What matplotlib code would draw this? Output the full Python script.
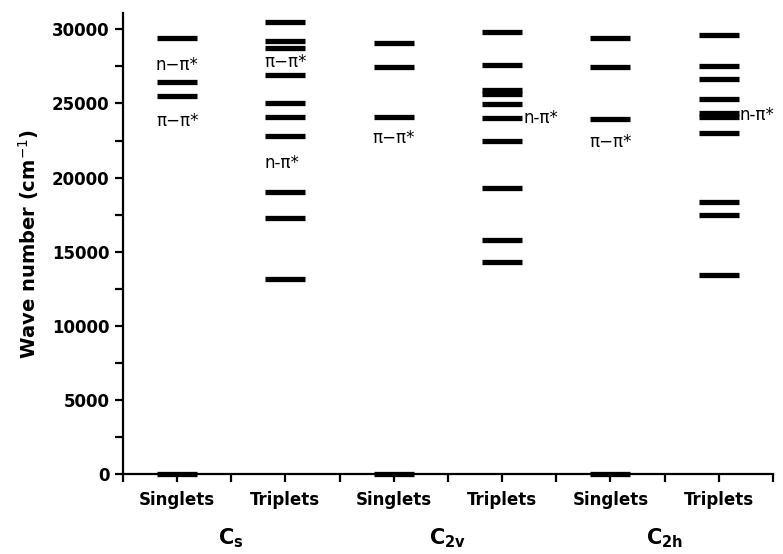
import numpy as np
import matplotlib
matplotlib.use('Agg')
import matplotlib.pyplot as plt

# energy levels (cm-1)
columns = ['Singlets', 'Triplets', 'Singlets', 'Triplets', 'Singlets', 'Triplets']
groups = ['C_{s}', 'C_{2v}', 'C_{2h}']

cs_singlets = [0, 25480, 26470, 29420]
cs_triplets = [13140, 17300, 19040, 22820, 24100, 25030, 26940, 28750, 29220, 30480]
c2v_singlets = [0, 24060, 27440, 29090]
c2v_triplets = [14310, 15810, 19330, 22480, 24020, 24960, 25610, 25910, 27570, 29830]
c2h_singlets = [0, 23920, 27480, 29440]
c2h_triplets = [13400, 17480, 18360, 23000, 24100, 24340, 25280, 26670, 27550, 29600]

levels = [cs_singlets, cs_triplets, c2v_singlets, c2v_triplets, c2h_singlets, c2h_triplets]

# (column, wave number, text, placement)
labels = [
    (1, 27600, 'n\u2212\u03c0*', 'under'),
    (1, 23790, '\u03c0\u2212\u03c0*', 'under'),
    (2, 27800, '\u03c0\u2212\u03c0*', 'under'),
    (2, 21000, 'n-\u03c0*', 'under'),
    (3, 22680, '\u03c0\u2212\u03c0*', 'under'),
    (4, 24020, 'n-\u03c0*', 'right'),
    (5, 22430, '\u03c0\u2212\u03c0*', 'under'),
    (6, 24200, 'n-\u03c0*', 'right'),
]

half = 0.185

fig = plt.figure(figsize=(7.83, 5.54), dpi=100)
ax = fig.add_axes([0.157, 0.1444, 0.83, 0.832])

for i, lv in enumerate(levels):
    x = i + 1
    ax.hlines(lv, x - half, x + half, colors='black', linewidth=3.8,
              clip_on=False, zorder=3)

for col, y, txt, where in labels:
    if where == 'under':
        ax.text(col - half - 0.01, y, txt, ha='left', va='center', fontsize=12)
    else:
        ax.text(col + half + 0.01, y, txt, ha='left', va='center', fontsize=12)

ax.set_xlim(0.5, 6.5)
ax.set_ylim(0, 31100)

ax.spines['top'].set_visible(False)
ax.spines['right'].set_visible(False)
ax.spines['left'].set_linewidth(1.6)
ax.spines['bottom'].set_linewidth(1.6)

ax.set_xticks(np.arange(1, 7))
ax.set_xticklabels(columns, fontsize=12, fontweight='bold')
ax.set_xticks(np.arange(0.5, 7.0, 1.0), minor=True)
ax.set_yticks(np.arange(0, 30001, 5000))
ax.set_yticks(np.arange(0, 31001, 2500), minor=True)
for lab in ax.get_yticklabels():
    lab.set_fontweight('bold')
    lab.set_fontsize(12)
ax.tick_params(which='both', direction='out', width=1.6)
ax.tick_params(which='major', length=6)
ax.tick_params(which='minor', length=6)
ax.tick_params(axis='x', pad=6)

ax.set_ylabel('Wave number (cm$^{-1}$)', fontsize=14, fontweight='bold', labelpad=8)

for k, g in enumerate(groups):
    xc = 2 * k + 1.5
    ax.text(xc, -0.14, r'$\mathbf{' + g + '}$', transform=ax.get_xaxis_transform(),
            ha='center', va='center', fontsize=15)

fig.savefig('out.png', dpi=100)
